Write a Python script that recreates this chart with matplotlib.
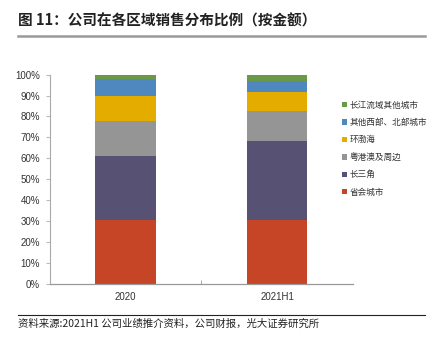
import matplotlib
matplotlib.use("Agg")
import matplotlib.pyplot as plt
from matplotlib.ticker import FuncFormatter, MultipleLocator
from matplotlib.lines import Line2D

categories = ["2020", "2021H1"]
series_names = ["省会城市", "长三角", "粤港澳及周边", "环渤海", "其他西部、北部城市", "长江流域其他城市"]
values = {
    "省会城市": [30.5, 30.5],
    "长三角": [30.5, 37.8],
    "粤港澳及周边": [16.8, 14.3],
    "环渤海": [12.1, 9.2],
    "其他西部、北部城市": [8.0, 5.1],
    "长江流域其他城市": [2.1, 3.1],
}
colors = ["#C64527", "#575274", "#959595", "#E5AC00", "#4F88BF", "#6A9A48"]

plt.rcParams['font.family'] = ['Noto Sans CJK SC', 'DejaVu Sans']

fig = plt.figure(figsize=(4.44, 3.47), dpi=100)
ax = fig.add_axes([0.112, 0.1816, 0.6825, 0.6035])

x = list(range(len(categories)))
bottom = [0.0] * len(categories)
for name, col in zip(series_names, colors):
    v = [vv / 100 for vv in values[name]]
    ax.bar(x, v, width=0.40, bottom=bottom, color=col, label=name, linewidth=0)
    bottom = [b + vv for b, vv in zip(bottom, v)]

ax.set_xlim(-0.5, 1.5)
ax.set_ylim(0, 1.0)
ax.yaxis.set_major_locator(MultipleLocator(0.1))
ax.yaxis.set_major_formatter(FuncFormatter(lambda y, p: f"{round(y*100)}%"))
ax.set_xticks(x)
ax.set_xticklabels(categories)
ax.set_xticks([0.5], minor=True)
ax.tick_params(axis='x', which='major', length=0, pad=6, labelsize=7, colors='#333333')
ax.tick_params(axis='x', which='minor', length=3, direction='in', color='#999999')
ax.tick_params(axis='y', which='major', length=3, direction='out', color='#bbbbbb', pad=4, labelsize=7, labelcolor='#333333')
for lbl in ax.get_xticklabels() + ax.get_yticklabels():
    lbl.set_family(['Liberation Sans', 'DejaVu Sans'])

for s in ['top', 'right']:
    ax.spines[s].set_visible(False)
ax.spines['left'].set_color('#aaaaaa')
ax.spines['bottom'].set_color('#999999')
ax.spines['left'].set_linewidth(0.8)
ax.spines['bottom'].set_linewidth(0.9)

h, l = ax.get_legend_handles_labels()
leg = ax.legend(h[::-1], l[::-1], loc='upper left', bbox_to_anchor=(0.963, 0.876),
                frameon=False, fontsize=6.2, handlelength=0.6, handleheight=0.6,
                handletextpad=0.35, labelspacing=0.98, borderaxespad=0, borderpad=0)
for t in leg.get_texts():
    t.set_color('#333333')

# Title
fig.text(18/444, 1 - 21/347, "图 11：公司在各区域销售分布比例（按金额）", fontsize=10.5,
         fontweight='bold', color='#222222', va='center', ha='left')
fig.add_artist(Line2D([18/444, 425/444], [1 - 35.5/347, 1 - 35.5/347], color='#999999', linewidth=1.8))

# Footer
fig.add_artist(Line2D([18/444, 425/444], [1 - 315/347, 1 - 315/347], color='#222222', linewidth=0.8))
fig.text(18/444, 1 - 323.5/347, "资料来源:2021H1 公司业绩推介资料，公司财报，光大证券研究所", fontsize=7.5,
         color='#222222', va='center', ha='left')

fig.savefig("out.png", dpi=100)
